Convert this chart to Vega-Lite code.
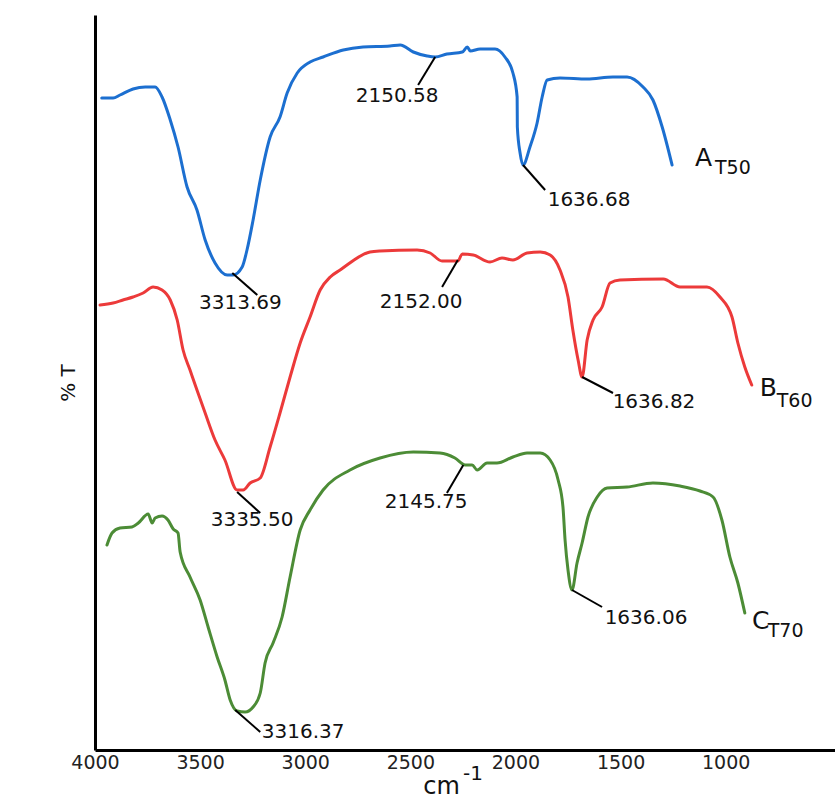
{
  "$schema": "https://vega.github.io/schema/vega-lite/v6.json",
  "width": 740,
  "height": 735,
  "autosize": "none",
  "padding": {"left": 95, "top": 15, "right": 0, "bottom": 53},
  "background": "white",
  "config": {"view": {"stroke": null}, "font": "DejaVu Sans"},
  "datasets": {
    "curves": [
      {"s":"A","w":3968,"t":652},{"s":"A","w":3914,"t":652},{"s":"A","w":3881,"t":655},{"s":"A","w":3819,"t":661},{"s":"A","w":3761,"t":663},{"s":"A","w":3714,"t":663},{"s":"A","w":3681,"t":653},{"s":"A","w":3642,"t":630},{"s":"A","w":3605,"t":603},{"s":"A","w":3562,"t":563},{"s":"A","w":3515,"t":540},{"s":"A","w":3476,"t":510},{"s":"A","w":3429,"t":487},{"s":"A","w":3371,"t":475},{"s":"A","w":3343,"t":475},{"s":"A","w":3300,"t":483},{"s":"A","w":3277,"t":500},{"s":"A","w":3248,"t":530},{"s":"A","w":3214,"t":570},{"s":"A","w":3167,"t":613},{"s":"A","w":3120,"t":633},{"s":"A","w":3086,"t":657},{"s":"A","w":3038,"t":677},{"s":"A","w":2977,"t":688},{"s":"A","w":2915,"t":693},{"s":"A","w":2819,"t":700},{"s":"A","w":2725,"t":703},{"s":"A","w":2597,"t":704},{"s":"A","w":2548,"t":705},{"s":"A","w":2486,"t":698},{"s":"A","w":2420,"t":694},{"s":"A","w":2382,"t":693},{"s":"A","w":2326,"t":696},{"s":"A","w":2253,"t":698},{"s":"A","w":2229,"t":703},{"s":"A","w":2215,"t":699},{"s":"A","w":2168,"t":701},{"s":"A","w":2097,"t":701},{"s":"A","w":2050,"t":693},{"s":"A","w":2012,"t":677},{"s":"A","w":1992,"t":653},{"s":"A","w":1991,"t":623},{"s":"A","w":1978,"t":597},{"s":"A","w":1964,"t":585},{"s":"A","w":1931,"t":603},{"s":"A","w":1897,"t":627},{"s":"A","w":1873,"t":653},{"s":"A","w":1849,"t":670},{"s":"A","w":1788,"t":672},{"s":"A","w":1659,"t":671},{"s":"A","w":1536,"t":673},{"s":"A","w":1469,"t":673},{"s":"A","w":1393,"t":663},{"s":"A","w":1346,"t":650},{"s":"A","w":1302,"t":623},{"s":"A","w":1255,"t":585},
      {"s":"B","w":3976,"t":445},{"s":"B","w":3914,"t":447},{"s":"B","w":3867,"t":450},{"s":"B","w":3819,"t":453},{"s":"B","w":3771,"t":457},{"s":"B","w":3724,"t":463},{"s":"B","w":3681,"t":460},{"s":"B","w":3642,"t":450},{"s":"B","w":3609,"t":430},{"s":"B","w":3581,"t":400},{"s":"B","w":3548,"t":380},{"s":"B","w":3515,"t":360},{"s":"B","w":3476,"t":337},{"s":"B","w":3429,"t":310},{"s":"B","w":3382,"t":290},{"s":"B","w":3324,"t":260},{"s":"B","w":3295,"t":260},{"s":"B","w":3262,"t":267},{"s":"B","w":3214,"t":272},{"s":"B","w":3167,"t":303},{"s":"B","w":3120,"t":337},{"s":"B","w":3072,"t":373},{"s":"B","w":3024,"t":407},{"s":"B","w":2977,"t":433},{"s":"B","w":2929,"t":460},{"s":"B","w":2881,"t":473},{"s":"B","w":2834,"t":480},{"s":"B","w":2692,"t":498},{"s":"B","w":2644,"t":499},{"s":"B","w":2468,"t":500},{"s":"B","w":2406,"t":497},{"s":"B","w":2349,"t":489},{"s":"B","w":2274,"t":489},{"s":"B","w":2253,"t":496},{"s":"B","w":2201,"t":495},{"s":"B","w":2121,"t":488},{"s":"B","w":2064,"t":492},{"s":"B","w":2012,"t":490},{"s":"B","w":1945,"t":497},{"s":"B","w":1882,"t":498},{"s":"B","w":1835,"t":495},{"s":"B","w":1788,"t":480},{"s":"B","w":1750,"t":453},{"s":"B","w":1727,"t":420},{"s":"B","w":1702,"t":390},{"s":"B","w":1683,"t":373},{"s":"B","w":1659,"t":410},{"s":"B","w":1631,"t":430},{"s":"B","w":1588,"t":443},{"s":"B","w":1550,"t":467},{"s":"B","w":1503,"t":470},{"s":"B","w":1297,"t":471},{"s":"B","w":1217,"t":463},{"s":"B","w":1089,"t":463},{"s":"B","w":1027,"t":453},{"s":"B","w":970,"t":433},{"s":"B","w":942,"t":407},{"s":"B","w":909,"t":383},{"s":"B","w":876,"t":365},
      {"s":"C","w":3943,"t":205},{"s":"C","w":3919,"t":217},{"s":"C","w":3881,"t":222},{"s":"C","w":3824,"t":223},{"s":"C","w":3794,"t":227},{"s":"C","w":3747,"t":236},{"s":"C","w":3728,"t":227},{"s":"C","w":3714,"t":232},{"s":"C","w":3681,"t":234},{"s":"C","w":3653,"t":230},{"s":"C","w":3628,"t":221},{"s":"C","w":3605,"t":217},{"s":"C","w":3595,"t":198},{"s":"C","w":3548,"t":173},{"s":"C","w":3500,"t":150},{"s":"C","w":3462,"t":123},{"s":"C","w":3419,"t":93},{"s":"C","w":3382,"t":70},{"s":"C","w":3357,"t":50},{"s":"C","w":3324,"t":39},{"s":"C","w":3286,"t":38},{"s":"C","w":3248,"t":43},{"s":"C","w":3214,"t":57},{"s":"C","w":3191,"t":87},{"s":"C","w":3153,"t":107},{"s":"C","w":3110,"t":133},{"s":"C","w":3072,"t":173},{"s":"C","w":3024,"t":220},{"s":"C","w":2977,"t":240},{"s":"C","w":2915,"t":260},{"s":"C","w":2787,"t":280},{"s":"C","w":2644,"t":292},{"s":"C","w":2486,"t":298},{"s":"C","w":2359,"t":297},{"s":"C","w":2288,"t":292},{"s":"C","w":2239,"t":285},{"s":"C","w":2206,"t":285},{"s":"C","w":2182,"t":280},{"s":"C","w":2135,"t":287},{"s":"C","w":2088,"t":287},{"s":"C","w":2012,"t":293},{"s":"C","w":1945,"t":297},{"s":"C","w":1882,"t":297},{"s":"C","w":1835,"t":290},{"s":"C","w":1797,"t":270},{"s":"C","w":1774,"t":243},{"s":"C","w":1764,"t":210},{"s":"C","w":1750,"t":180},{"s":"C","w":1731,"t":160},{"s":"C","w":1707,"t":187},{"s":"C","w":1683,"t":207},{"s":"C","w":1655,"t":233},{"s":"C","w":1611,"t":253},{"s":"C","w":1564,"t":262},{"s":"C","w":1469,"t":263},{"s":"C","w":1346,"t":267},{"s":"C","w":1217,"t":264},{"s":"C","w":1122,"t":259},{"s":"C","w":1060,"t":253},{"s":"C","w":1018,"t":230},{"s":"C","w":980,"t":193},{"s":"C","w":942,"t":167},{"s":"C","w":909,"t":137}
    ],
    "leaders": [
      {"w1":3347,"t1":477,"w2":3228,"t2":455},
      {"w1":2382,"t1":693,"w2":2463,"t2":665},
      {"w1":1964,"t1":585,"w2":1859,"t2":560},
      {"w1":3324,"t1":258,"w2":3214,"t2":237},
      {"w1":2274,"t1":490,"w2":2349,"t2":463},
      {"w1":1683,"t1":373,"w2":1536,"t2":357},
      {"w1":3333,"t1":40,"w2":3214,"t2":18},
      {"w1":2248,"t1":285,"w2":2326,"t2":257},
      {"w1":1731,"t1":160,"w2":1588,"t2":143}
    ],
    "peaks": [
      {"w":3308,"t":447,"label":"3313.69"},
      {"w":2563,"t":654,"label":"2150.58"},
      {"w":1650,"t":550,"label":"1636.68"},
      {"w":3253,"t":230,"label":"3335.50"},
      {"w":2449,"t":448,"label":"2152.00"},
      {"w":1341,"t":348,"label":"1636.82"},
      {"w":3010,"t":18,"label":"3316.37"},
      {"w":2425,"t":248,"label":"2145.75"},
      {"w":1379,"t":132,"label":"1636.06"}
    ],
    "names": [
      {"w":1146,"t":592,"label":"A"},
      {"w":838,"t":362,"label":"B"},
      {"w":875,"t":129,"label":"C"}
    ],
    "subs": [
      {"w":1051,"t":582,"label":"T50"},
      {"w":757,"t":349,"label":"T60"},
      {"w":800,"t":119,"label":"T70"}
    ],
    "unit": [
      {"w":2249,"t":-30,"label":"-1"}
    ]
  },
  "layer": [
    {
      "data": {"name": "curves"},
      "mark": {"type": "line", "strokeWidth": 3, "interpolate": "monotone", "strokeCap": "round", "strokeJoin": "round"},
      "encoding": {
        "x": {"field": "w", "type": "quantitative",
              "scale": {"domain": [480, 4000], "reverse": true, "nice": false, "zero": false},
              "axis": {"values": [4000, 3500, 3000, 2500, 2000, 1500, 1000], "format": "d", "title": "cm", "grid": false, "ticks": false,
                       "labelFlush": false, "labelOverlap": false,
                       "domainColor": "black", "domainWidth": 3, "labelFontSize": 19, "labelColor": "#222", "labelPadding": 3,
                       "labelFont": "DejaVu Sans", "titleFont": "DejaVu Sans", "titleFontSize": 24, "titleFontWeight": "normal", "titleColor": "#111",
                       "titleX": 346, "titleY": 43, "titleBaseline": "alphabetic", "titleAlign": "center"}},
        "y": {"field": "t", "type": "quantitative",
              "scale": {"domain": [0, 735], "nice": false, "zero": false},
              "axis": {"title": "% T", "labels": false, "ticks": false, "grid": false, "domainColor": "black", "domainWidth": 3,
                       "titleFont": "DejaVu Sans", "titleFontSize": 20, "titleFontWeight": "normal", "titleColor": "#111", "titlePadding": 17}},
        "color": {"field": "s", "type": "nominal", "legend": null,
                  "scale": {"domain": ["A", "B", "C"], "range": ["#1c6fd0", "#ec3a3a", "#4c8c36"]}}
      }
    },
    {
      "data": {"name": "leaders"},
      "mark": {"type": "rule", "color": "black", "strokeWidth": 2},
      "encoding": {
        "x": {"field": "w1", "type": "quantitative"},
        "y": {"field": "t1", "type": "quantitative"},
        "x2": {"field": "w2"},
        "y2": {"field": "t2"}
      }
    },
    {
      "data": {"name": "peaks"},
      "mark": {"type": "text", "fontSize": 20, "color": "#111", "align": "center", "baseline": "middle", "font": "DejaVu Sans"},
      "encoding": {
        "x": {"field": "w", "type": "quantitative"},
        "y": {"field": "t", "type": "quantitative"},
        "text": {"field": "label"}
      }
    },
    {
      "data": {"name": "names"},
      "mark": {"type": "text", "fontSize": 25, "color": "#111", "align": "left", "baseline": "middle", "font": "DejaVu Sans"},
      "encoding": {
        "x": {"field": "w", "type": "quantitative"},
        "y": {"field": "t", "type": "quantitative"},
        "text": {"field": "label"}
      }
    },
    {
      "data": {"name": "subs"},
      "mark": {"type": "text", "fontSize": 19, "color": "#111", "align": "left", "baseline": "middle", "font": "DejaVu Sans"},
      "encoding": {
        "x": {"field": "w", "type": "quantitative"},
        "y": {"field": "t", "type": "quantitative"},
        "text": {"field": "label"}
      }
    },
    {
      "data": {"name": "unit"},
      "mark": {"type": "text", "fontSize": 20, "color": "#111", "align": "left", "baseline": "alphabetic", "font": "DejaVu Sans"},
      "encoding": {
        "x": {"field": "w", "type": "quantitative"},
        "y": {"field": "t", "type": "quantitative"},
        "text": {"field": "label"}
      }
    }
  ]
}
